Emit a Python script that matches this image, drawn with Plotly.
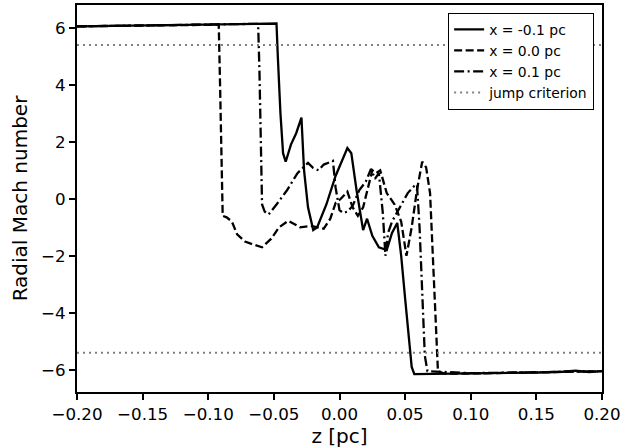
import plotly.graph_objects as go

# Data
z_m01 = [-0.2, -0.15, -0.1, -0.06, -0.048, -0.047, -0.045, -0.043, -0.041, -0.037, -0.033,
         -0.029, -0.027, -0.024, -0.020, -0.017, -0.01, -0.003, 0.003, 0.006, 0.009, 0.013,
         0.018, 0.021, 0.025, 0.030, 0.036, 0.040, 0.044, 0.047, 0.050, 0.053, 0.055, 0.057,
         0.1, 0.15, 0.17, 0.18, 0.19, 0.2]
m_m01 = [6.05, 6.08, 6.11, 6.14, 6.15, 5.0, 3.0, 1.6, 1.3, 1.9, 2.3,
         2.85, 1.0, -0.3, -1.1, -1.0, -0.2, 0.8, 1.5, 1.78, 1.6, 0.3,
         -1.1, -0.7, -1.3, -1.7, -1.8, -1.2, -0.85, -2.0, -3.5, -5.0, -5.9, -6.15,
         -6.13, -6.1, -6.07, -6.03, -6.08, -6.05]

z_00 = [-0.2, -0.15, -0.1, -0.092, -0.091, -0.090, -0.089, -0.086, -0.082, -0.078, -0.072,
        -0.066, -0.059, -0.052, -0.046, -0.039, -0.030, -0.022, -0.012, -0.007, -0.003,
        0.001, 0.006, 0.010, 0.014, 0.018, 0.022, 0.025, 0.028, 0.031, 0.036, 0.042, 0.047,
        0.051, 0.055, 0.059, 0.063, 0.066, 0.069, 0.071, 0.073, 0.075, 0.08, 0.1, 0.2]
m_00 = [6.05, 6.07, 6.1, 6.11, 4.0, 1.0, -0.6, -0.65, -0.8, -1.25, -1.5,
        -1.6, -1.7, -1.4, -1.0, -0.77, -1.0, -0.95, -1.05, -0.7, -0.15,
        0.0, 0.25, -0.3, -0.6, -0.3, 0.5, 1.0, 0.9, 1.0, 0.2, -0.2, -0.8,
        -2.0, -1.0, 0.3, 1.3, 1.1, 0.2, -1.9, -4.3, -6.05, -6.13, -6.13, -6.05]

z_p01 = [-0.2, -0.15, -0.1, -0.062, -0.061, -0.060, -0.059, -0.057, -0.054, -0.048, -0.040,
         -0.032, -0.028, -0.024, -0.020, -0.016, -0.012, -0.005, -0.003, 0.000, 0.003, 0.006,
         0.010, 0.015, 0.020, 0.024, 0.027, 0.030, 0.033, 0.035, 0.037, 0.040, 0.046, 0.052,
         0.057, 0.059, 0.061, 0.063, 0.065, 0.067, 0.1, 0.2]
m_p01 = [6.05, 6.09, 6.12, 6.14, 4.5, 1.5, -0.2, -0.45, -0.55, -0.2, 0.3,
         0.9, 1.08, 1.26, 1.08, 1.0, 1.2, 1.33, 0.4, -0.4, -0.5, -0.45,
         -0.25, 0.3, 0.6, 1.05, 0.7, 0.9, -0.5, -2.0, -1.2, -0.8, -0.3, 0.2,
         0.45, 0.5, -1.0, -3.5, -5.5, -6.05, -6.12, -6.05]

jump_level = 5.4
z_range = [-0.2, 0.2]
y_range = [-6.78, 6.80]
x_ticks = [-0.20, -0.15, -0.10, -0.05, 0.00, 0.05, 0.10, 0.15, 0.20]
y_ticks = [-6, -4, -2, 0, 2, 4, 6]

FONT = "DejaVu Sans"
fig = go.Figure()

fig.add_trace(go.Scatter(x=z_m01, y=m_m01, mode="lines", name="x = -0.1 pc",
                         line=dict(color="black", width=2.3, dash="solid")))
fig.add_trace(go.Scatter(x=z_00, y=m_00, mode="lines", name="x = 0.0 pc",
                         line=dict(color="black", width=2.3, dash="8px,3.5px")))
fig.add_trace(go.Scatter(x=z_p01, y=m_p01, mode="lines", name="x = 0.1 pc",
                         line=dict(color="black", width=2.3, dash="10px,3.5px,2px,3.5px")))
fig.add_trace(go.Scatter(x=z_range, y=[jump_level, jump_level], mode="lines",
                         name="jump criterion",
                         line=dict(color="gray", width=2, dash="2px,4px")))
fig.add_trace(go.Scatter(x=z_range, y=[-jump_level, -jump_level], mode="lines",
                         showlegend=False,
                         line=dict(color="gray", width=2, dash="2px,4px")))

fig.update_layout(
    width=641, height=448,
    margin=dict(l=77, r=39, t=3, b=56),
    paper_bgcolor="white", plot_bgcolor="white",
    font=dict(family=FONT, size=16.7, color="black"),
    legend=dict(x=0.985, y=0.98, xanchor="right", yanchor="top",
                bordercolor="black", borderwidth=1, bgcolor="white",
                font=dict(family=FONT, size=13.9), itemwidth=30,
                tracegroupgap=0),
    xaxis=dict(range=z_range, tickvals=x_ticks, tickformat=".2f",
               showgrid=False, zeroline=False, showline=True, linecolor="black",
               linewidth=2, mirror=True, ticks="outside", ticklen=6, tickwidth=1.5,
               tickcolor="black",
               title=dict(text="z [pc]", standoff=4)),
    yaxis=dict(range=y_range, tickvals=y_ticks,
               showgrid=False, zeroline=False, showline=True, linecolor="black",
               linewidth=2, mirror=True, ticks="outside", ticklen=6, tickwidth=1.5,
               tickcolor="black",
               title=dict(text="Radial Mach number", standoff=8)),
)

fig.write_html("out.html")
